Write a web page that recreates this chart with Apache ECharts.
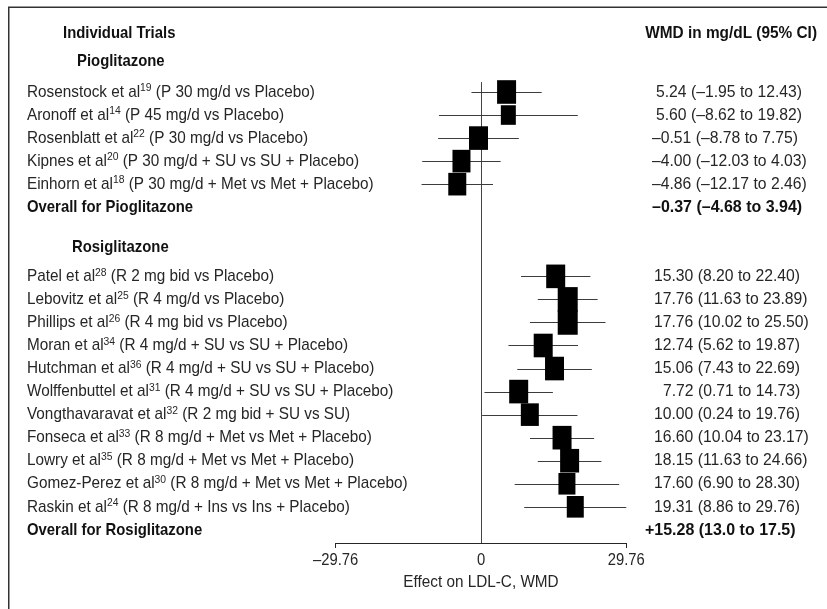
<!DOCTYPE html>
<html><head><meta charset="utf-8">
<script src="https://cdn.jsdelivr.net/npm/echarts@6/dist/echarts.min.js"></script>
<style>html,body{margin:0;padding:0;background:#fff}#c{width:827px;height:609px}</style>
</head><body><div id="c"></div>
<script>
// ---------- data ----------
const pioAuthors = ['Rosenstock', 'Aronoff', 'Rosenblatt', 'Kipnes', 'Einhorn'];
const pioRefs = ['19', '14', '22', '20', '18'];
const pioArms = ['P 30 mg/d vs Placebo', 'P 45 mg/d vs Placebo', 'P 30 mg/d vs Placebo',
  'P 30 mg/d + SU vs SU + Placebo', 'P 30 mg/d + Met vs Met + Placebo'];
const pioWMD = [5.24, 5.60, -0.51, -4.00, -4.86];
const pioLow = [-1.95, -8.62, -8.78, -12.03, -12.17];
const pioHigh = [12.43, 19.82, 7.75, 4.03, 2.46];
const pioWeight = [3.8, 3.0, 3.8, 3.6, 3.6];
const pioOverall = [-0.37, -4.68, 3.94];

const rosAuthors = ['Patel', 'Lebovitz', 'Phillips', 'Moran', 'Hutchman', 'Wolffenbuttel',
  'Vongthavaravat', 'Fonseca', 'Lowry', 'Gomez-Perez', 'Raskin'];
const rosRefs = ['28', '25', '26', '34', '36', '31', '32', '33', '35', '30', '24'];
const rosArms = ['R 2 mg bid vs Placebo', 'R 4 mg/d vs Placebo', 'R 4 mg bid vs Placebo',
  'R 4 mg/d + SU vs SU + Placebo', 'R 4 mg/d + SU vs SU + Placebo', 'R 4 mg/d + SU vs SU + Placebo',
  'R 2 mg bid + SU vs SU', 'R 8 mg/d + Met vs Met + Placebo', 'R 8 mg/d + Met vs Met + Placebo',
  'R 8 mg/d + Met vs Met + Placebo', 'R 8 mg/d + Ins vs Ins + Placebo'];
const rosWMD = [15.30, 17.76, 17.76, 12.74, 15.06, 7.72, 10.00, 16.60, 18.15, 17.60, 19.31];
const rosLow = [8.20, 11.63, 10.02, 5.62, 7.43, 0.71, 0.24, 10.04, 11.63, 6.90, 8.86];
const rosHigh = [22.40, 23.89, 25.50, 19.87, 22.69, 14.73, 19.76, 23.17, 24.66, 28.30, 29.76];
const rosWeight = [3.8, 4.0, 4.0, 3.8, 3.8, 3.8, 3.6, 3.8, 3.8, 3.4, 3.4];
const rosOverall = [15.28, 13.0, 17.5];

const xTicks = [-29.76, 0, 29.76];
const xEndTicks = [-29.76, 29.76];
const headerLeft = 'Individual Trials';
const headerRight = 'WMD in mg/dL (95% CI)';
const groupNames = ['Pioglitazone', 'Rosiglitazone'];
const overallNames = ['Overall for Pioglitazone', 'Overall for Rosiglitazone'];
const axisTitle = 'Effect on LDL-C, WMD';

// ---------- layout / style ----------
const FONT = "'Liberation Sans', Arial, Helvetica, sans-serif";
const FS = 17;
const SX_L = 0.9, SX_LB = 0.875, SX_R = 0.925, SX_RB = 0.94, SX_AX = 0.87;
const INK = '#262626';
const BOX = 5;
const Y_MIN = -3, Y_MAX = 19.57, ZERO_TOP = -0.43;

const dash = '\u2013';
function fmt(v, d) { return (v < 0 ? dash : '') + Math.abs(v).toFixed(d); }
function ci(w, l, h) { return fmt(w, 2) + ' (' + fmt(l, 2) + ' to ' + fmt(h, 2) + ')'; }

const rows = [];
const trials = [];
rows.push({ pos: -2.55, left: headerLeft, lx: 63, bold: true, right: headerRight, rx: 817, ralign: 'right', rsx: 0.905 });
rows.push({ pos: -1.35, left: groupNames[0], lx: 77, bold: true });
pioAuthors.forEach((a, i) => {
  rows.push({ pos: i, left: a + ' et al{sup|' + pioRefs[i] + '} (' + pioArms[i] + ')', lx: 27,
    right: ci(pioWMD[i], pioLow[i], pioHigh[i]), rx: pioWMD[i] >= 0 ? 656 : 652 });
  trials.push([pioWMD[i], i, pioLow[i], pioHigh[i], pioWeight[i]]);
});
const nP = pioAuthors.length;
rows.push({ pos: nP, left: overallNames[0], lx: 27, bold: true,
  right: ci(pioOverall[0], pioOverall[1], pioOverall[2]), rx: 652 });
rows.push({ pos: nP + 1.75, left: groupNames[1], lx: 72, bold: true });
rosAuthors.forEach((a, i) => {
  const p = nP + 3 + i;
  rows.push({ pos: p, left: a + ' et al{sup|' + rosRefs[i] + '} (' + rosArms[i] + ')', lx: 27,
    right: ci(rosWMD[i], rosLow[i], rosHigh[i]), rx: rosWMD[i] < 10 ? 663 : 654 });
  trials.push([rosWMD[i], p, rosLow[i], rosHigh[i], rosWeight[i]]);
});
rows.push({ pos: nP + 3 + rosAuthors.length, left: overallNames[1], lx: 27, bold: true,
  right: '+' + rosOverall[0].toFixed(2) + ' (' + rosOverall[1].toFixed(1) + ' to ' + rosOverall[2].toFixed(1) + ')', rx: 645 });

const RICH = { sup: { fontSize: 11.5, fontFamily: FONT, fill: INK, lineHeight: 15, verticalAlign: 'top' } };

function txt(x, y, text, bold, align, sx) {
  return { type: 'text', x: x, y: y, scaleX: sx, scaleY: 1,
    style: { x: 0, y: 0, text: text, rich: RICH, fontFamily: FONT, fontSize: FS,
      fontWeight: bold ? 'bold' : 'normal', fill: bold ? '#111' : INK, align: align || 'left',
      verticalAlign: 'middle', lineHeight: 20 } };
}

const chart = echarts.init(document.getElementById('c'), null, { renderer: 'canvas' });
chart.setOption({
  backgroundColor: '#fff',
  animation: false,
  graphic: [{ type: 'rect', shape: { x: 8.75, y: 7.25, width: 900, height: 700 },
    style: { fill: 'none', stroke: '#333', lineWidth: 1.5 }, z: 0 }],
  grid: { left: 335.7, right: 200.7, top: 22.85, bottom: 66, outerBoundsMode: 'none' },
  xAxis: {
    type: 'value', min: xTicks[0], max: xTicks[xTicks.length - 1],
    axisLine: { show: true, onZero: false, lineStyle: { color: INK, width: 1 } },
    axisTick: { show: true, customValues: xEndTicks, length: 5, lineStyle: { color: INK, width: 1 } },
    axisLabel: { show: false },
    splitLine: { show: false }
  },
  yAxis: { type: 'value', inverse: true, min: Y_MIN, max: Y_MAX, show: false },
  series: [
    {
      type: 'custom', name: 'zero', z: 1, clip: false,
      data: [[0, ZERO_TOP]],
      renderItem: (p, api) => {
        const a = api.coord([0, api.value(1)]);
        const b = api.coord([0, Y_MAX]);
        const x = Math.round(a[0]) + 0.5;
        return { type: 'line', shape: { x1: x, y1: a[1], x2: x, y2: b[1] }, style: { stroke: '#444', lineWidth: 1 } };
      }
    },
    {
      type: 'custom', name: 'trials', z: 3, clip: false,
      data: trials,
      renderItem: (p, api) => {
        const pos = api.value(1);
        const c = api.coord([api.value(0), pos]);
        const lo = api.coord([api.value(2), pos]);
        const hi = api.coord([api.value(3), pos]);
        const bw = api.value(4) * BOX, bh = bw + 4.6;
        const y = Math.round(c[1]) + 0.5;
        return { type: 'group', children: [
          { type: 'line', shape: { x1: lo[0], y1: y, x2: hi[0], y2: y }, style: { stroke: '#3c3c3c', lineWidth: 1 } },
          { type: 'rect', shape: { x: c[0] - bw / 2, y: c[1] - bh / 2, width: bw, height: bh }, style: { fill: '#000' }, z2: 2 }
        ] };
      }
    },
    {
      type: 'custom', name: 'labels', z: 4, clip: false, silent: true,
      data: rows.map((r, i) => [0, r.pos, i]),
      renderItem: (p, api) => {
        const r = rows[api.value(2)];
        const y = api.coord([0, api.value(1)])[1];
        const ch = [];
        if (r.left) ch.push(txt(r.lx, y, r.left, r.bold, 'left', r.bold ? SX_LB : SX_L));
        if (r.right) ch.push(txt(r.rx, y, r.right, r.bold, r.ralign, r.rsx || (r.bold ? SX_RB : SX_R)));
        return { type: 'group', children: ch };
      }
    },
    {
      type: 'custom', name: 'axisText', z: 4, clip: false, silent: true,
      data: xTicks.map(v => [v, Y_MAX]),
      renderItem: (p, api) => {
        const v = api.value(0);
        const c = api.coord([v, api.value(1)]);
        const label = (v < 0 ? dash : '') + (v === 0 ? '0' : Math.abs(v).toFixed(2));
        const ch = [txt(c[0], c[1] + 17, label, false, 'center', SX_AX)];
        if (p.dataIndex === 1) ch.push(txt(c[0], c[1] + 39, axisTitle, false, 'center', SX_L));
        return { type: 'group', children: ch };
      }
    }
  ]
});
</script>
</body></html>
